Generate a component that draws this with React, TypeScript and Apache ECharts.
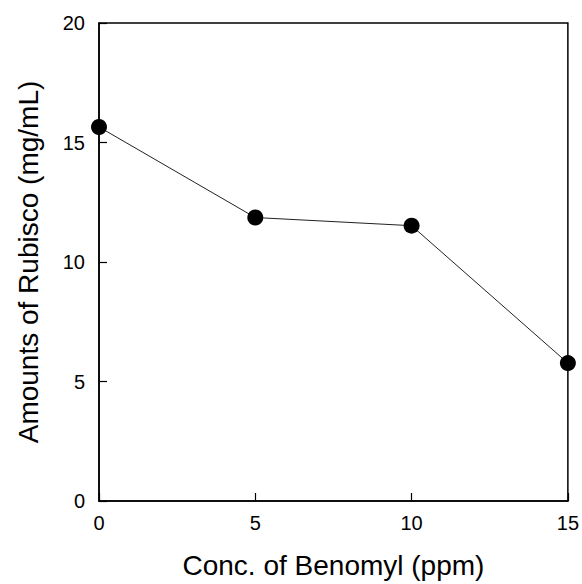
import React, { useEffect, useRef } from "react";
import * as echarts from "echarts";

const concentrations = [0, 5, 10, 15];
const rubisco = [15.65, 11.86, 11.52, 5.77];
const xTicks = [0, 5, 10, 15];
const yTicks = [0, 5, 10, 15, 20];

export default function App() {
  const ref = useRef<HTMLDivElement>(null);
  useEffect(() => {
    if (!ref.current) return;
    const chart = echarts.init(ref.current, null, { renderer: "svg" });
    const font = "Liberation Sans, Arial, sans-serif";
    chart.setOption({
      animation: false,
      backgroundColor: "#ffffff",
      grid: { left: 99, right: 14, top: 23, bottom: 77, show: true, borderColor: "#000", borderWidth: 1.5 },
      xAxis: {
        type: "value",
        min: xTicks[0],
        max: xTicks[xTicks.length - 1],
        interval: 5,
        name: "Conc. of Benomyl (ppm)",
        nameLocation: "middle",
        nameGap: 50,
        nameTextStyle: { fontFamily: font, fontSize: 28, color: "#000" },
        axisLine: { show: true, lineStyle: { color: "#000", width: 1.5 } },
        axisTick: { show: true, inside: true, length: 8, lineStyle: { color: "#000", width: 1.2 } },
        axisLabel: { fontFamily: font, fontSize: 20, color: "#000", margin: 12 },
        splitLine: { show: false },
      },
      yAxis: {
        type: "value",
        min: yTicks[0],
        max: yTicks[yTicks.length - 1],
        interval: 5,
        name: "Amounts of Rubisco (mg/mL)",
        nameLocation: "middle",
        nameGap: 57,
        nameTextStyle: { fontFamily: font, fontSize: 28, color: "#000" },
        axisLine: { show: true, lineStyle: { color: "#000", width: 1.5 } },
        axisTick: { show: true, inside: true, length: 8, lineStyle: { color: "#000", width: 1.2 } },
        axisLabel: { fontFamily: font, fontSize: 20, color: "#000", margin: 14 },
        splitLine: { show: false },
      },
      series: [
        {
          type: "line",
          data: concentrations.map((c, i) => [c, rubisco[i]]),
          symbol: "circle",
          symbolSize: 16,
          itemStyle: { color: "#000" },
          lineStyle: { color: "#222", width: 1 },
        },
      ],
    });
    return () => chart.dispose();
  }, []);
  return <div ref={ref} style={{ width: 582, height: 584, position: "absolute", left: 0, top: 0 }} />;
}
